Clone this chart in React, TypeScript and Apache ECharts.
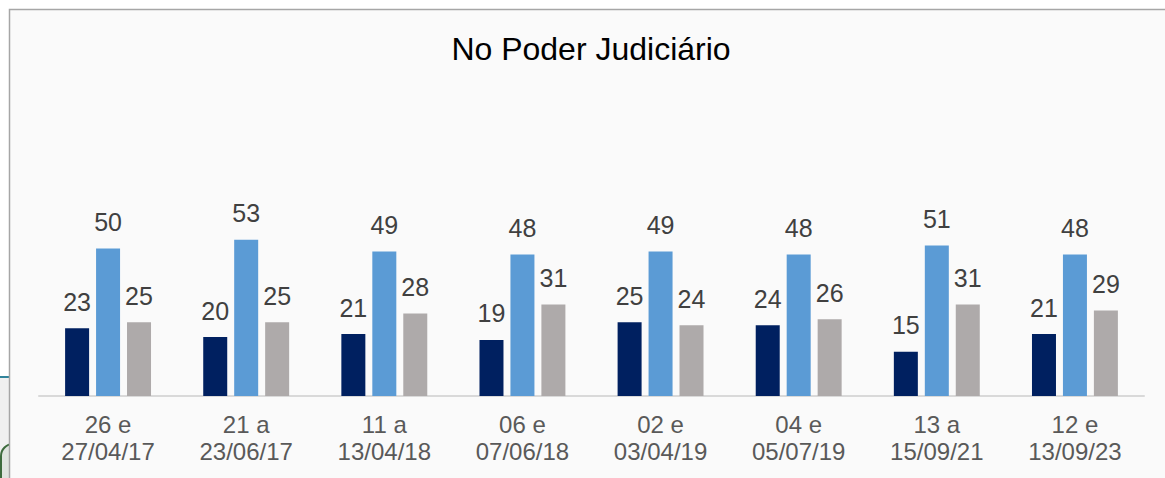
import React, { useEffect, useRef } from "react";
import * as echarts from "echarts";

const categories = [
  "26 e\n27/04/17",
  "21 a\n23/06/17",
  "11 a\n13/04/18",
  "06 e\n07/06/18",
  "02 e\n03/04/19",
  "04 e\n05/07/19",
  "13 a\n15/09/21",
  "12 e\n13/09/23",
];
const seriesA = [23, 20, 21, 19, 25, 24, 15, 21];
const seriesB = [50, 53, 49, 48, 49, 48, 51, 48];
const seriesC = [25, 25, 28, 31, 24, 26, 31, 29];
const seriesNames = ["Série 1", "Série 2", "Série 3"];
const colors = ["#002060", "#5B9BD5", "#AEAAAA"];
const titleText = "No Poder Judiciário";

const FONT = "'Liberation Sans', Arial, sans-serif";

export default function App() {
  const ref = useRef<HTMLDivElement>(null);
  useEffect(() => {
    if (!ref.current) return;
    const chart = echarts.init(ref.current, null, { renderer: "svg" });
    const label = {
      show: true,
      position: "top" as const,
      distance: 14,
      fontSize: 25,
      color: "#404040",
      fontFamily: FONT,
    };
    const data = [seriesA, seriesB, seriesC];
    chart.setOption({
      animation: false,
      backgroundColor: "#ffffff",
      graphic: [
        {
          type: "rect",
          z: -10,
          shape: { x: 0, y: 378, width: 10, height: 100 },
          style: { fill: "#f0f0f0" },
        },
        {
          type: "line",
          z: -9,
          shape: { x1: 0, y1: 377, x2: 10, y2: 377 },
          style: { stroke: "#31849B", lineWidth: 2 },
        },
        {
          type: "rect",
          z: -8,
          shape: { x: 1, y: 444, width: 40, height: 60, r: 12 },
          style: { fill: "#dfe4df", stroke: "#3d6b3d", lineWidth: 2 },
        },
        {
          type: "rect",
          z: -5,
          shape: { x: 9.5, y: 9.5, width: 1170, height: 480 },
          style: { fill: "#fafafa", stroke: "#a6a6a6", lineWidth: 1.5 },
        },
        {
          type: "text",
          z: 5,
          x: 591,
          y: 49,
          style: {
            text: titleText,
            fontSize: 32,
            fontFamily: FONT,
            fill: "#000000",
            align: "center",
            verticalAlign: "middle",
          },
        },
      ],
      grid: { left: 39, right: 21, top: 219, bottom: 82 },
      xAxis: {
        type: "category",
        data: categories,
        axisLine: { lineStyle: { color: "#d9d9d9", width: 2 } },
        axisTick: { show: false },
        axisLabel: {
          interval: 0,
          fontSize: 24,
          lineHeight: 27,
          margin: 15,
          color: "#595959",
          fontFamily: FONT,
        },
      },
      yAxis: {
        type: "value",
        min: 0,
        max: 60,
        show: false,
        splitLine: { show: false },
      },
      series: data.map((d, i) => ({
        name: seriesNames[i],
        type: "bar",
        data: d,
        barWidth: 24,
        barGap: "29%",
        itemStyle: { color: colors[i] },
        label,
      })),
    });
    return () => chart.dispose();
  }, []);
  return (
    <div
      ref={ref}
      style={{ position: "fixed", left: 0, top: 0, width: 1165, height: 478 }}
    />
  );
}
